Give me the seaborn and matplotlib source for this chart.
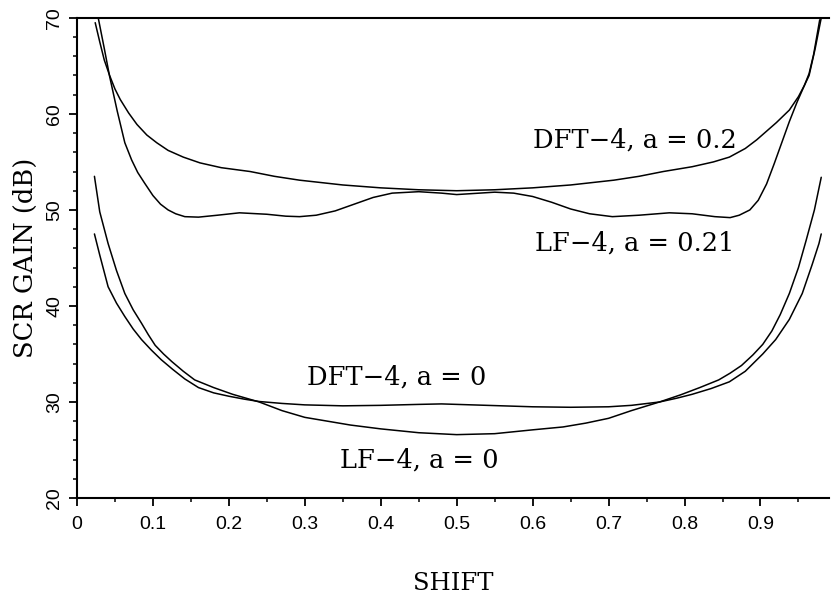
import matplotlib
matplotlib.use("Agg")
import matplotlib.pyplot as plt
import seaborn as sns
import pandas as pd
from matplotlib.ticker import MultipleLocator

# ---- data ----
dft02_x = [0.024, 0.030, 0.036, 0.043, 0.050, 0.057, 0.068, 0.079, 0.092, 0.105, 0.120, 0.140,
           0.162, 0.190, 0.228, 0.260, 0.293, 0.350, 0.400, 0.450, 0.500, 0.550, 0.600, 0.650,
           0.707, 0.740, 0.772, 0.810, 0.838, 0.859, 0.880, 0.895, 0.908, 0.921, 0.938, 0.950,
           0.958, 0.964, 0.970, 0.978]
dft02_y = [69.5, 67.5, 65.6, 64.0, 62.6, 61.5, 60.1, 58.9, 57.8, 57.0, 56.2, 55.5,
           54.9, 54.4, 54.0, 53.5, 53.1, 52.6, 52.3, 52.1, 52.0, 52.1, 52.3, 52.6,
           53.1, 53.5, 54.0, 54.5, 55.0, 55.5, 56.4, 57.3, 58.2, 59.1, 60.4, 61.8,
           63.0, 64.2, 66.2, 69.8]

lf021_x = [0.028, 0.036, 0.043, 0.053, 0.063, 0.072, 0.080, 0.089, 0.100, 0.110, 0.120, 0.130,
           0.142, 0.160, 0.185, 0.214, 0.250, 0.275, 0.293, 0.315, 0.340, 0.365, 0.390, 0.415,
           0.450, 0.480, 0.500, 0.520, 0.550, 0.575, 0.600, 0.625, 0.650, 0.675, 0.705, 0.740,
           0.780, 0.810, 0.840, 0.860, 0.872, 0.886, 0.897, 0.908, 0.918, 0.928, 0.938, 0.948,
           0.958, 0.964, 0.972, 0.980]
lf021_y = [70.0, 66.8, 63.9, 60.3, 57.0, 55.2, 53.9, 52.8, 51.5, 50.6, 50.0, 49.6,
           49.3, 49.25, 49.45, 49.7, 49.55, 49.35, 49.3, 49.45, 49.9, 50.6, 51.3, 51.75,
           51.9, 51.75, 51.6, 51.7, 51.85, 51.75, 51.4, 50.8, 50.1, 49.6, 49.3, 49.45,
           49.7, 49.6, 49.3, 49.2, 49.45, 50.0, 51.0, 52.7, 54.8, 57.0, 59.2, 61.2,
           63.0, 64.0, 66.8, 70.0]

lf0_x = [0.023, 0.030, 0.041, 0.052, 0.063, 0.074, 0.085, 0.094, 0.103, 0.114, 0.125, 0.140,
         0.155, 0.180, 0.205, 0.240, 0.270, 0.300, 0.330, 0.360, 0.400, 0.450, 0.500, 0.550,
         0.600, 0.640, 0.670, 0.700, 0.730, 0.767, 0.795, 0.820, 0.845, 0.860, 0.875, 0.890,
         0.903, 0.915, 0.926, 0.938, 0.950, 0.960, 0.971, 0.980]
lf0_y = [53.5, 49.8, 46.5, 43.7, 41.3, 39.6, 38.2, 37.0, 35.9, 35.0, 34.2, 33.2,
         32.3, 31.5, 30.8, 30.0, 29.1, 28.4, 28.0, 27.6, 27.2, 26.8, 26.6, 26.7,
         27.1, 27.4, 27.8, 28.3, 29.1, 30.0, 30.75, 31.5, 32.3, 33.0, 33.8, 34.9,
         36.0, 37.4, 39.1, 41.3, 44.0, 46.8, 50.0, 53.4]

dft0_x = [0.023, 0.030, 0.041, 0.052, 0.063, 0.074, 0.085, 0.098, 0.111, 0.126, 0.142, 0.160,
          0.180, 0.200, 0.220, 0.240, 0.270, 0.300, 0.350, 0.400, 0.450, 0.480, 0.520, 0.560,
          0.600, 0.650, 0.700, 0.730, 0.767, 0.790, 0.810, 0.835, 0.859, 0.880, 0.903, 0.920,
          0.938, 0.955, 0.968, 0.977, 0.980]
dft0_y = [47.5, 45.3, 42.0, 40.3, 38.9, 37.6, 36.5, 35.4, 34.4, 33.4, 32.4, 31.5,
          30.95, 30.6, 30.3, 30.05, 29.85, 29.7, 29.6, 29.65, 29.75, 29.8, 29.7, 29.6,
          29.5, 29.45, 29.5, 29.65, 30.0, 30.4, 30.8, 31.4, 32.1, 33.2, 35.0, 36.5,
          38.6, 41.3, 44.3, 46.5, 47.5]

labels = ["DFT\u22124, a = 0.2", "LF\u22124, a = 0.21", "DFT\u22124, a = 0", "LF\u22124, a = 0"]
label_x = [0.600, 0.603, 0.303, 0.346]
label_y = [57.3, 46.6, 32.6, 24.0]

x_ticks = [0, 0.1, 0.2, 0.3, 0.4, 0.5, 0.6, 0.7, 0.8, 0.9]
x_tick_labels = ["0", "0.1", "0.2", "0.3", "0.4", "0.5", "0.6", "0.7", "0.8", "0.9"]
y_ticks = [20, 30, 40, 50, 60, 70]

series = {
    "DFT a=0.2": (dft02_x, dft02_y),
    "LF a=0.21": (lf021_x, lf021_y),
    "LF a=0": (lf0_x, lf0_y),
    "DFT a=0": (dft0_x, dft0_y),
}
frames = []
for name, (xs, ys) in series.items():
    frames.append(pd.DataFrame({"shift": xs, "gain": ys, "curve": name}))
df = pd.concat(frames, ignore_index=True)

sns.set_theme(style="ticks")
plt.rcParams["font.family"] = ["DejaVu Serif", "Liberation Serif"]

fig, ax = plt.subplots(figsize=(8.33, 5.96), dpi=100)
fig.subplots_adjust(left=0.0924, right=0.995, top=0.970, bottom=0.1644)

sns.lineplot(data=df, x="shift", y="gain", hue="curve", units="curve", estimator=None,
             palette=["black"] * 4, linewidth=1.1, legend=False, ax=ax, sort=True)

for t, lx, ly in zip(labels, label_x, label_y):
    ax.text(lx, ly, t, fontsize=18.5, family=["DejaVu Serif"], va="center", ha="left",
            color="black")

ax.set_xlim(0, 0.99)
ax.set_ylim(20, 70)
ax.set_xticks(x_ticks)
ax.set_xticklabels(x_tick_labels, family=["Liberation Sans"], fontsize=14)
ax.set_yticks(y_ticks)
ax.set_yticklabels([str(v) for v in y_ticks], family=["Liberation Sans"], fontsize=14,
                   rotation=90, va="center")
ax.xaxis.set_minor_locator(MultipleLocator(0.05))
ax.yaxis.set_minor_locator(MultipleLocator(2))
ax.tick_params(axis="both", which="major", direction="out", length=6, width=1.3,
               color="black", labelcolor="black")
ax.tick_params(axis="both", which="minor", direction="out", length=3, width=1.1, color="black")
ax.tick_params(axis="x", which="major", pad=7)
ax.tick_params(axis="y", which="major", pad=4)

ax.set_xlabel("SHIFT", fontsize=17.5, family=["DejaVu Serif"], labelpad=28, color="black")
ax.set_ylabel("SCR GAIN (dB)", fontsize=18.5, family=["DejaVu Serif"], labelpad=6,
              color="black")

for s in ["left", "bottom", "top"]:
    ax.spines[s].set_visible(True)
    ax.spines[s].set_color("black")
    ax.spines[s].set_linewidth(1.5)
ax.spines["right"].set_visible(False)
ax.set_facecolor("white")
fig.patch.set_facecolor("white")

fig.savefig("out.png", dpi=100)
